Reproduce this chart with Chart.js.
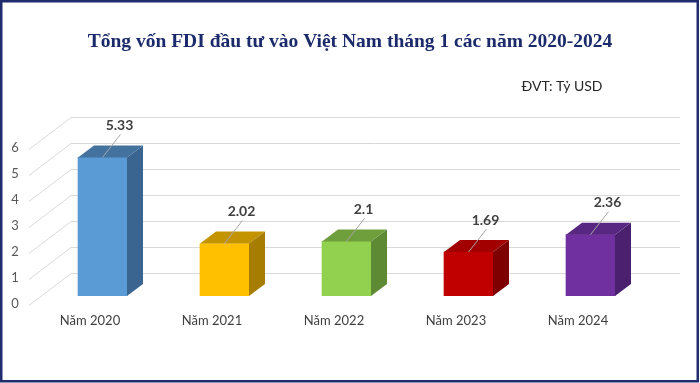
<!DOCTYPE html>
<html>
<head>
<meta charset="utf-8">
<script src="https://cdn.jsdelivr.net/npm/chart.js@4/dist/chart.umd.min.js"></script>
<style>
html,body{margin:0;padding:0;background:#fff;}
canvas{display:block;}
</style>
</head>
<body>
<canvas id="c" width="700" height="383"></canvas>
<script>
const titleText = 'Tổng vốn FDI đầu tư vào Việt Nam tháng 1 các năm 2020-2024';
const unitText = 'ĐVT: Tỷ USD';
const categories = ['Năm 2020', 'Năm 2021', 'Năm 2022', 'Năm 2023', 'Năm 2024'];
const values = [5.33, 2.02, 2.1, 1.69, 2.36];
const valueLabels = ['5.33', '2.02', '2.1', '1.69', '2.36'];
const yTicks = [0, 1, 2, 3, 4, 5, 6];

const frontColors = ['#5B9BD5', '#FFC000', '#92D050', '#C00000', '#7030A0'];
const topColors   = ['#44729F', '#C49400', '#6F9E3D', '#A20000', '#572782'];
const sideColors  = ['#3A6590', '#A67D00', '#5E8A33', '#7E0000', '#4A206F'];

const DX = 16, DY = -12;       // bar depth
const WDX = 42, WDY = -32;     // wall offset from label plane

const threeD = {
  id: 'threeD',
  beforeDatasetsDraw(chart) {
    const ctx = chart.ctx;
    const ys = chart.scales.y;
    ctx.save();
    ctx.strokeStyle = '#D9D9D9';
    ctx.lineWidth = 1;
    yTicks.forEach(v => {
      const y = ys.getPixelForValue(v);
      const y0 = Math.round(y + 9) + 0.5;
      const y1 = Math.round(y - 23) + 0.5;
      ctx.beginPath();
      ctx.moveTo(29, y0);
      ctx.lineTo(29 + WDX, y1);
      ctx.lineTo(680, y1);
      ctx.stroke();
    });
    ctx.fillStyle = '#595959';
    ctx.font = '13px Lato, "Liberation Sans", sans-serif';
    ctx.textAlign = 'center';
    ctx.textBaseline = 'middle';
    yTicks.forEach(v => {
      const y = ys.getPixelForValue(v);
      ctx.fillText(String(v), 15, y + 8);
    });
    ctx.restore();
  },
  afterDatasetsDraw(chart) {
    const ctx = chart.ctx;
    const meta = chart.getDatasetMeta(0);
    ctx.save();
    meta.data.forEach((bar, i) => {
      const p = bar.getProps(['x', 'y', 'base', 'width'], true);
      const l = p.x - p.width / 2, r = p.x + p.width / 2;
      ctx.fillStyle = topColors[i];
      ctx.beginPath();
      ctx.moveTo(l, p.y);
      ctx.lineTo(l + DX, p.y + DY);
      ctx.lineTo(r + DX, p.y + DY);
      ctx.lineTo(r, p.y);
      ctx.closePath();
      ctx.fill();
      ctx.fillStyle = sideColors[i];
      ctx.beginPath();
      ctx.moveTo(r, p.y);
      ctx.lineTo(r + DX, p.y + DY);
      ctx.lineTo(r + DX, p.base + DY);
      ctx.lineTo(r, p.base);
      ctx.closePath();
      ctx.fill();
    });
    ctx.fillStyle = '#404040';
    ctx.font = '13px Lato, "Liberation Sans", sans-serif';
    ctx.textAlign = 'center';
    ctx.textBaseline = 'middle';
    meta.data.forEach((bar, i) => {
      ctx.fillText(categories[i], bar.x - 12.5, 321);
    });
    meta.data.forEach((bar, i) => {
      const lx = bar.x + 17, ly = bar.y - 32;
      ctx.strokeStyle = '#A6A6A6';
      ctx.lineWidth = 1;
      ctx.beginPath();
      ctx.moveTo(bar.x, bar.y);
      ctx.lineTo(lx + 1, ly + 9);
      ctx.stroke();
      ctx.fillStyle = '#404040';
      ctx.font = 'bold 14px Lato, "Liberation Sans", sans-serif';
      ctx.fillText(valueLabels[i], lx, ly);
    });
    ctx.fillStyle = '#1B2A6B';
    ctx.font = 'bold 19.5px "Liberation Serif", "Times New Roman", serif';
    ctx.fillText(titleText, 350, 42);
    ctx.fillStyle = '#262626';
    ctx.font = '14px Lato, "Liberation Sans", sans-serif';
    ctx.fillText(unitText, 562, 86);
    ctx.strokeStyle = '#1F2D6E';
    ctx.lineWidth = 2.5;
    ctx.strokeRect(1.25, 1.25, 696.5, 380);
    ctx.restore();
  }
};

new Chart(document.getElementById('c'), {
  type: 'bar',
  data: {
    labels: categories,
    datasets: [{
      data: values,
      backgroundColor: frontColors,
      borderWidth: 0,
      barThickness: 49
    }]
  },
  options: {
    responsive: false,
    animation: false,
    events: [],
    layout: { padding: { left: 41.5, right: 48.5, top: 140, bottom: 87 } },
    plugins: { legend: { display: false }, title: { display: false }, tooltip: { enabled: false } },
    scales: {
      x: { display: false, offset: true },
      y: { display: false, min: 0, max: 6 }
    }
  },
  plugins: [threeD]
});
</script>
</body>
</html>
